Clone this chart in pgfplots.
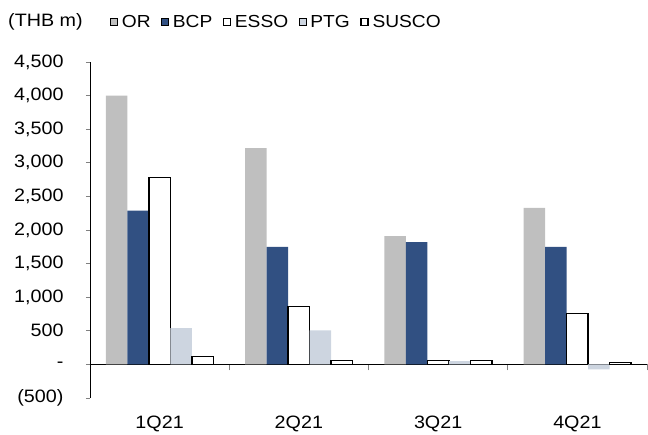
\documentclass[border=0pt]{standalone}
\usepackage{fontspec}
\setmainfont{Liberation Sans}[FakeStretch=1.1]
\usepackage{pgfplots}
\pgfplotsset{compat=1.18}
\definecolor{orgray}{RGB}{191,191,191}
\definecolor{bcpblue}{RGB}{49,80,130}
\definecolor{ptgblue}{RGB}{205,213,224}
\begin{document}
\begin{tikzpicture}
\begin{axis}[
  name=ax,
  scale only axis,
  width=557bp, height=336bp,
  font=\fontsize{18}{21}\selectfont,
  ybar=0pt, bar width=21.5bp,
  xmin=-0.5, xmax=3.5,
  ymin=-500, ymax=4500,
  axis y line=left, axis x line=middle,
  axis line style={-, line width=0.9pt},
  every inner x axis line/.append style={-},
  every outer y axis line/.append style={-},
  xtick={0,1,2,3},
  xticklabels={1Q21,2Q21,3Q21,4Q21},
  major x tick style={draw=none},
  minor xtick={0.5,1.5,2.5,3.5},
  minor x tick style={line width=0.9pt},
  minor tick length=6bp,
  xticklabel style={yshift=-44bp},
  ytick={-500,0,500,1000,1500,2000,2500,3000,3500,4000,4500},
  yticklabels={\mbox{(500)},\mbox{-},500,\mbox{1,000},\mbox{1,500},\mbox{2,000},\mbox{2,500},\mbox{3,000},\mbox{3,500},\mbox{4,000},\mbox{4,500}},
  yticklabel style={xshift=-19bp},
  ytick style={line width=0.9pt},
  tick align=outside,
  major tick length=4bp,
  legend columns=5,
  legend style={draw=none, fill=none, inner sep=0pt, at={(0.0359,1.119)}, anchor=west,
    font=\fontsize{17.5}{21}\selectfont,
    /tikz/every even column/.append style={column sep=9bp},
    nodes={inner xsep=1.5bp}},
  legend image code/.code={\path[draw=none, fill=none] (0bp,0bp) -- (10bp,0bp); \draw[#1] (0bp,-3.5bp) rectangle (7bp,3.5bp);},
]
\addplot[fill=orgray, draw=none] coordinates {(0,4000) (1,3220) (2,1910) (3,2330)};
\addplot[fill=bcpblue, draw=none] coordinates {(0,2290) (1,1750) (2,1820) (3,1750)};
\addplot[fill=white, draw=black, line width=1.3pt] coordinates {(0,2780) (1,860) (2,55) (3,760)};
\addplot[fill=ptgblue, draw=none] coordinates {(0,540) (1,505) (2,50) (3,-75)};
\addplot[fill=white, draw=black, line width=1.3pt] coordinates {(0,115) (1,55) (2,55) (3,25)};
\legend{OR,BCP,ESSO,PTG,SUSCO}
\end{axis}
\node[anchor=west, inner sep=0pt, font=\fontsize{18}{21}\selectfont] at (-82bp,376bp) {(THB m)};
\pgfresetboundingbox
\path (-90bp,-37bp) rectangle (558bp,398bp);
\end{tikzpicture}
\end{document}
